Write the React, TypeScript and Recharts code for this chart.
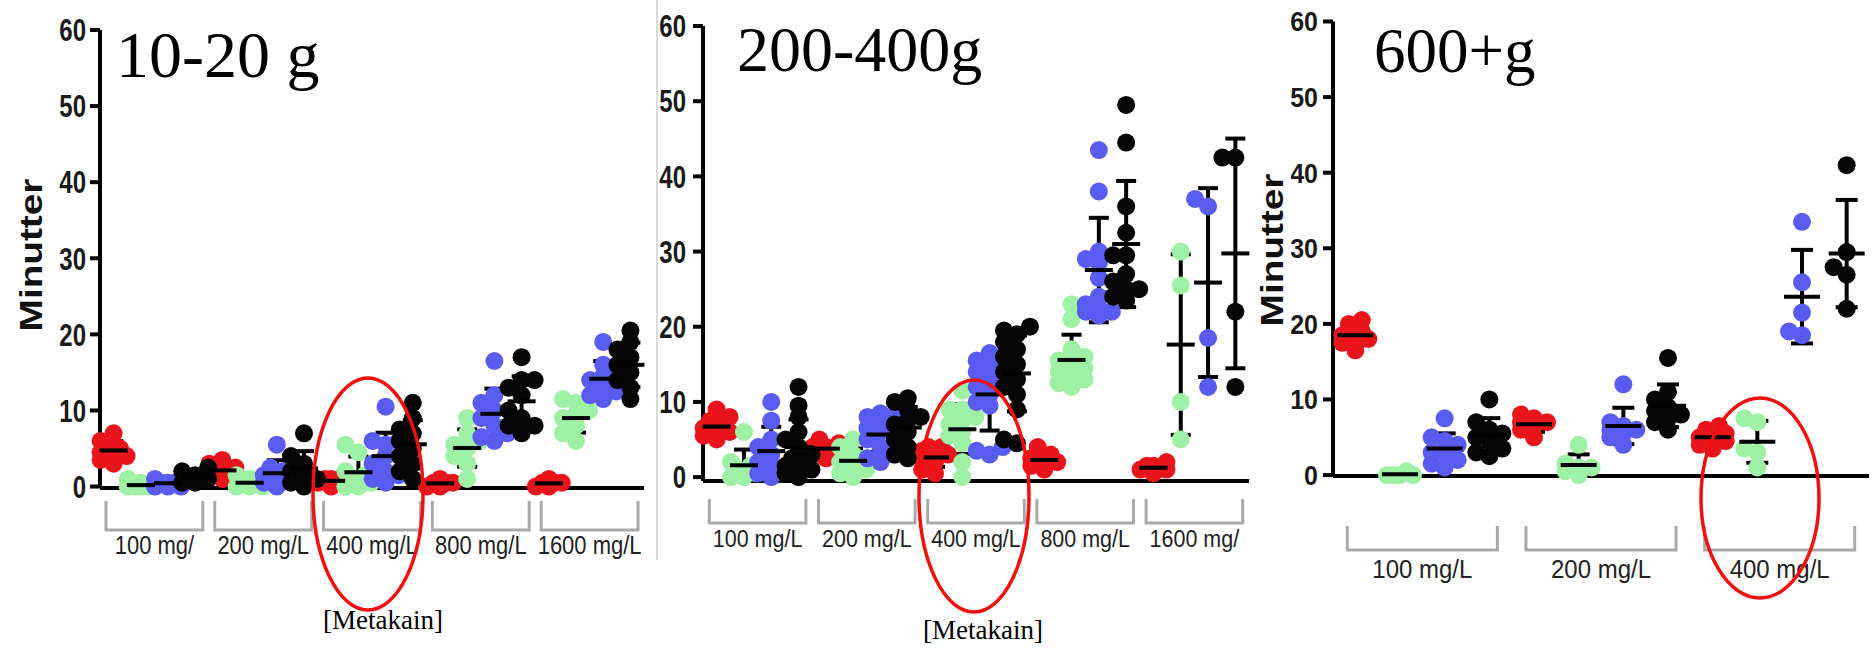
import React from 'react'
import { ScatterChart, Scatter, XAxis, YAxis, ErrorBar } from 'recharts'

const COLORS = ['#e8161c', '#9ef0a4', '#5a5bf0', '#050505']

// 10-20 g
const groups1 = ['100 mg/', '200 mg/L', '400 mg/L', '800 mg/L', '1600 mg/L']
const red1 = [[3, 3.5, 4, 4, 4.5, 5, 5, 5.5, 6, 7], [1, 1.5, 2, 2, 2.5, 3, 3.5, 1.5], [0, 0.5, 0.5, 1, 1, 1.5], [0, 0, 0.5, 0.5, 1, 0.5], [0, 0.5, 0.5, 1, 0.5, 0]]
const green1 = [[0, 0, 0, 0, 0, 0, 0.5, 1], [0, 0, 0.5, 0.5, 1, 1.5, 0], [0, 0, 0.5, 1, 1.5, 2, 4.5, 5.5], [1, 3, 4, 5, 5.5, 6, 7, 9], [6, 7, 8, 9, 9.5, 10, 11, 11.5]]
const blue1 = [[0, 0, 0.5, 0.5, 1, 1, 0.5, 0], [0, 0.5, 1, 1.5, 2, 2.5, 5.5, 1], [0.5, 1, 1.5, 2, 3, 4, 5.5, 6, 6, 10.5], [6, 6.5, 7, 8, 9, 10, 11, 12, 16.5], [11.5, 12, 12.5, 13, 14, 14.5, 15, 16, 19]]
const black1 = [[0.5, 1, 1, 1.5, 2, 2.5, 1, 0.5], [0, 0.5, 1, 1.5, 2, 3, 4, 7], [1, 2, 3, 4, 5, 6, 7, 7.5, 9, 11], [7, 8, 8, 9, 10, 12, 13, 14, 14, 17], [11.5, 13, 14, 15, 16, 17, 18, 19, 20.5]]

// 200-400 g
const groups2 = ['100 mg/L', '200 mg/L', '400 mg/L', '800 mg/L', '1600 mg/']
const red2 = [[5, 5.5, 6, 6, 6.5, 7, 7.5, 8, 9], [2.5, 3, 3.5, 4, 4, 4.5, 5], [0.5, 1, 2, 2.5, 3, 3, 3.5, 4, 4], [1, 1.5, 2, 2, 2.5, 3, 4], [0.5, 1, 1, 1.5, 1.5, 2]]
const green2 = [[0, 0, 0.5, 1, 1.5, 2, 6], [0, 0.5, 1, 1.5, 2, 2.5, 3, 4, 5], [0, 2, 4.5, 5.5, 6, 7, 7.5, 8, 9, 9, 11.5], [12, 12.5, 13, 13.5, 14, 14.5, 15, 15.5, 16, 17, 21, 23], [5, 10, 25.5, 30]]
const blue2 = [[0, 0.5, 1, 1.5, 2, 3, 4, 5, 7.5, 10], [2, 2.5, 3, 4, 5, 6, 6.5, 7, 7.5, 8, 8.5, 8], [3, 3.5, 4, 9.5, 10, 11, 12, 13, 14, 15, 15.5, 16, 16.5], [21.5, 22, 22, 22.5, 23, 24, 26.5, 28.5, 29, 30, 38, 43.5], [12, 18.5, 36, 37]]
const black2 = [[0, 0.5, 1, 1, 1.5, 2, 2.5, 3, 4, 5, 6, 8, 9.5, 12], [2.5, 3, 4, 5, 6, 7, 7.5, 8, 9, 10, 10.5], [4.5, 5, 9, 11, 12, 13, 14, 15, 16, 17, 18, 19, 19.5, 20], [23.5, 24, 25, 25, 26, 27, 29.5, 29.5, 32.5, 36, 44.5, 49.5], [12, 22, 42.5, 42.5]]

// 600+ g
const groups3 = ['100 mg/L', '200 mg/L', '400 mg/L']
const red3 = [[16.5, 17.5, 18, 18.5, 19, 20, 20.5, 18], [5, 6, 6.5, 7, 7, 7.5, 8], [3.5, 4, 4.5, 5, 5, 5.5, 6, 6.5]]
const green3 = [[0, 0, 0, 0.5, 0], [0, 0.5, 1, 1, 1.5, 4], [1, 3, 3.5, 7, 7.5]]
const blue3 = [[1, 1.5, 2, 3, 3, 4, 4.5, 5, 7.5], [4, 5, 5.5, 6, 6, 6.5, 7, 12], [18.5, 19, 21.5, 25.5, 33.5]]
const black3 = [[2.5, 3, 3.5, 4.5, 5, 5.5, 6, 7, 10], [6, 7, 7.5, 8, 8.5, 9, 10, 11, 15.5], [22, 26.5, 27.5, 29.5, 41]]

const yTicks = [0, 10, 20, 30, 40, 50, 60]

const R = 9
const SANS = "'Liberation Sans', Arial, sans-serif"
const SERIF = "'Liberation Serif', 'Times New Roman', serif"

// spread dots of one column sideways so they don't sit on top of each other
function swarm(vals: number[], pxPerUnit: number, catPx: number): number[] {
  const order = vals.map((_, i) => i).sort((a, b) => vals[a] - vals[b])
  const placed: { x: number; y: number }[] = []
  const out = new Array(vals.length).fill(0)
  const step = Math.min(6.5, (catPx * 0.48) / 2)
  for (const i of order) {
    const y = vals[i] * pxPerUnit
    let best = 0
    let bestD = -1
    for (const s of [0, -1, 1, -2, 2]) {
      const x = s * step
      let d = Infinity
      for (const p of placed) d = Math.min(d, Math.hypot(p.x - x, p.y - y))
      if (d >= 11) { best = x; bestD = d; break }
      if (d > bestD) { bestD = d; best = x }
    }
    placed.push({ x: best, y })
    out[i] = best / catPx
  }
  return out
}

const mean = (v: number[]) => v.reduce((a, b) => a + b, 0) / v.length
const sd = (v: number[]) => {
  const m = mean(v)
  return Math.sqrt(v.reduce((a, b) => a + (b - m) ** 2, 0) / (v.length - 1))
}

type Cfg = {
  left: number; width: number
  plotLeft: number; plotRight: number; plotTop: number; plotBottom: number
  groups: string[]; series: number[][][]
  yTickMargin: number; yLabelSize: number; yStretch: number
  grpSize: number; grpStretch: number
  bracketTop: number; bracketBottom: number; labelY: number; bracketHalf: number
  meanHalf: number; capHalf: number
}

const panels: Cfg[] = [
  {
    left: 0, width: 660, plotLeft: 100, plotRight: 644, plotTop: 30, plotBottom: 488,
    groups: groups1, series: [red1, green1, blue1, black1],
    yTickMargin: 4, yLabelSize: 24, yStretch: 1.3, grpSize: 22, grpStretch: 1.15,
    bracketTop: 13, bracketBottom: 42, labelY: 57, bracketHalf: 1.78, meanHalf: 14, capHalf: 10,
  },
  {
    left: 650, width: 610, plotLeft: 703, plotRight: 1249, plotTop: 26, plotBottom: 481,
    groups: groups2, series: [red2, green2, blue2, black2],
    yTickMargin: 7, yLabelSize: 24, yStretch: 1.3, grpSize: 21.5, grpStretch: 1.15,
    bracketTop: 18, bracketBottom: 42, labelY: 57, bracketHalf: 1.77, meanHalf: 14, capHalf: 10,
  },
  {
    left: 1291, width: 585, plotLeft: 1333, plotRight: 1869, plotTop: 21.5, plotBottom: 476,
    groups: groups3, series: [red3, green3, blue3, black3],
    yTickMargin: 5, yLabelSize: 25, yStretch: 1.1, grpSize: 24, grpStretch: 1.1,
    bracketTop: 50, bracketBottom: 74, labelY: 92, bracketHalf: 1.68, meanHalf: 18, capHalf: 11,
  },
]

function Panel({ cfg }: { cfg: Cfg }) {
  const n = cfg.groups.length * 4
  const catPx = (cfg.plotRight - cfg.plotLeft) / n
  const pxPerUnit = (cfg.plotBottom - cfg.plotTop) / 60

  const dots = cfg.series.map((byGroup, c) =>
    byGroup.flatMap((vals, g) => {
      const off = swarm(vals, pxPerUnit, catPx)
      return vals.map((v, k) => ({ x: g * 4 + c + off[k], y: v }))
    })
  )
  const stats: { x: number; y: number; sd: number }[] = []
  cfg.groups.forEach((_, g) =>
    cfg.series.forEach((byGroup, c) => stats.push({ x: g * 4 + c, y: mean(byGroup[g]), sd: sd(byGroup[g]) }))
  )
  const centers = cfg.groups.map((_, g) => g * 4 + 1.5)
  const grpData = centers.map((x) => ({ x, y: 0 }))
  const catTicks = Array.from({ length: n }, (_, i) => i)

  const yTick = (p: any) => (
    <text
      transform={`translate(${p.x},${p.y}) scale(1,${cfg.yStretch})`}
      textAnchor="end" dy="0.36em" fontSize={cfg.yLabelSize} fontWeight="bold"
      fontFamily={SANS} fill="#1a1a1a"
    >
      {p.payload.value}
    </text>
  )

  const grpTick = (p: any) => {
    const g = Math.round((p.payload.value - 1.5) / 4)
    const h = cfg.bracketHalf * catPx
    const t = cfg.plotBottom + cfg.bracketTop
    const b = cfg.plotBottom + cfg.bracketBottom
    return (
      <g>
        <path d={`M${p.x - h},${t} L${p.x - h},${b} L${p.x + h},${b} L${p.x + h},${t}`} fill="none" stroke="#a9a9a9" strokeWidth={3} />
        <text
          transform={`translate(${p.x},${cfg.plotBottom + cfg.labelY}) scale(1,${cfg.grpStretch})`}
          textAnchor="middle" dy="0.36em" fontSize={cfg.grpSize} fontFamily={SANS} fill="#222"
        >
          {cfg.groups[g]}
        </text>
      </g>
    )
  }

  return (
    <div style={{ position: 'absolute', left: cfg.left, top: 0 }}>
      <ScatterChart
        width={cfg.width}
        height={649}
        margin={{
          top: cfg.plotTop,
          left: cfg.plotLeft - cfg.left - 40,
          right: cfg.left + cfg.width - cfg.plotRight,
          bottom: 649 - cfg.plotBottom - 14 - 130,
        }}
      >
        <XAxis
          type="number" dataKey="x" domain={[-0.5, n - 0.5]} ticks={catTicks} interval={0}
          tick={false} tickSize={12} height={14}
          axisLine={{ stroke: '#000', strokeWidth: 4 }} tickLine={{ stroke: '#000', strokeWidth: 4 }}
        />
        <XAxis
          xAxisId="grp" type="number" dataKey="x" domain={[-0.5, n - 0.5]} allowDataOverflow
          ticks={centers} interval={0} axisLine={false} tickLine={false} tickSize={0} height={130}
          tick={grpTick}
        />
        <YAxis
          type="number" dataKey="y" domain={[0, 60]} ticks={yTicks} interval={0} width={40}
          tickSize={10} tickMargin={cfg.yTickMargin} tick={yTick}
          axisLine={{ stroke: '#000', strokeWidth: 4 }} tickLine={{ stroke: '#000', strokeWidth: 4 }}
        />
        <Scatter xAxisId="grp" data={grpData} isAnimationActive={false} shape={() => <g />} />
        {dots.map((d, c) => (
          <Scatter
            key={c} data={d} isAnimationActive={false}
            shape={(p: any) => <circle cx={p.cx} cy={p.cy} r={R} fill={COLORS[c]} />}
          />
        ))}
        <Scatter
          data={stats} isAnimationActive={false}
          shape={(p: any) => (
            <line x1={p.cx - cfg.meanHalf} x2={p.cx + cfg.meanHalf} y1={p.cy} y2={p.cy} stroke="#000" strokeWidth={4} />
          )}
        >
          <ErrorBar dataKey="sd" direction="y" width={cfg.capHalf} stroke="#000" strokeWidth={4} isAnimationActive={false} />
        </Scatter>
      </ScatterChart>
    </div>
  )
}

export default function App() {
  return (
    <div style={{ position: 'absolute', left: 0, top: 0, width: 1876, height: 649, background: '#fff', overflow: 'hidden' }}>
      {panels.map((cfg, i) => (
        <Panel key={i} cfg={cfg} />
      ))}
      <svg width={1876} height={649} style={{ position: 'absolute', left: 0, top: 0, pointerEvents: 'none' }}>
        <line x1={657} y1={0} x2={657} y2={560} stroke="#dadada" strokeWidth={2} />
        <text x={116} y={77} fontFamily={SERIF} fontSize={66} fill="#000">10-20 g</text>
        <text x={737} y={71} fontFamily={SERIF} fontSize={64} fill="#000">200-400g</text>
        <text x={1374} y={72} fontFamily={SERIF} fontSize={63} fill="#000">600+g</text>
        <text x={383} y={629} textAnchor="middle" fontFamily={SERIF} fontSize={27} fill="#000">[Metakain]</text>
        <text x={983} y={639} textAnchor="middle" fontFamily={SERIF} fontSize={27} fill="#000">[Metakain]</text>
        <text
          transform="translate(31,255) scale(1,1.25) rotate(-90)" textAnchor="middle" dominantBaseline="central"
          fontFamily={SANS} fontWeight="bold" fontSize={31} fill="#111"
        >
          Minutter
        </text>
        <text
          transform="translate(1272,250) scale(1,1.25) rotate(-90)" textAnchor="middle" dominantBaseline="central"
          fontFamily={SANS} fontWeight="bold" fontSize={31} fill="#111"
        >
          Minutter
        </text>
        <ellipse cx={368} cy={494} rx={55} ry={116} fill="none" stroke="#f01010" strokeWidth={3.5} />
        <ellipse cx={974} cy={496} rx={55} ry={116} fill="none" stroke="#f01010" strokeWidth={3.5} />
        <ellipse cx={1760} cy={498} rx={59} ry={100} fill="none" stroke="#f01010" strokeWidth={3.5} />
      </svg>
    </div>
  )
}
